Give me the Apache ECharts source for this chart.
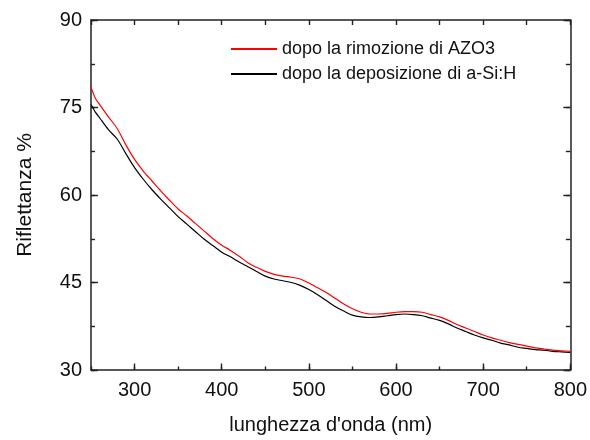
<!DOCTYPE html>
<html>
<head>
<meta charset="utf-8">
<script src="https://cdn.jsdelivr.net/npm/echarts@6/dist/echarts.min.js"></script>
<style>
  html, body { margin: 0; padding: 0; background: #fff; }
  #chart { width: 590px; height: 440px; }
</style>
</head>
<body>
<div id="chart"></div>
<script>
// Wavelength grid (nm)
const wavelengths = [250, 255, 260, 270, 280, 290, 300, 310, 320, 330, 340, 350, 360, 370, 380, 390,
  400, 410, 420, 430, 440, 450, 460, 470, 480, 490, 500, 510, 520, 530, 540, 550, 560, 570, 580, 590,
  600, 610, 620, 630, 640, 650, 660, 670, 680, 690, 700, 710, 720, 730, 740, 750, 760, 770, 780, 790, 800];

// Reflectance (%) after AZO3 removal
const reflAfterRemoval = [78.5, 76.6, 75.5, 73.4, 71.4, 68.6, 66.1, 64.1, 62.4, 60.7, 59.1, 57.6, 56.4, 55.1, 53.8, 52.5,
  51.4, 50.5, 49.5, 48.4, 47.6, 46.9, 46.4, 46.1, 45.9, 45.6, 44.9, 44.1, 43.3, 42.3, 41.3, 40.5, 39.9, 39.6, 39.6, 39.7,
  39.9, 40.0, 40.0, 39.9, 39.5, 39.1, 38.5, 37.8, 37.2, 36.6, 36.0, 35.5, 35.1, 34.7, 34.4, 34.1, 33.8, 33.6, 33.4, 33.3, 33.2];

// Reflectance (%) after a-Si:H deposition
const reflAfterDeposition = [75.5, 74.2, 73.2, 71.2, 69.6, 67.1, 64.7, 62.7, 60.9, 59.3, 57.8, 56.3, 55.0, 53.7, 52.4, 51.3,
  50.2, 49.4, 48.5, 47.7, 46.9, 46.1, 45.6, 45.3, 45.0, 44.5, 43.8, 42.9, 41.9, 40.9, 40.1, 39.4, 39.1, 39.0, 39.1, 39.3,
  39.5, 39.6, 39.5, 39.3, 38.9, 38.5, 37.9, 37.2, 36.6, 36.0, 35.5, 35.1, 34.6, 34.3, 33.9, 33.7, 33.5, 33.4, 33.2, 33.1, 33.0];

const seriesNames = ['dopo la rimozione di AZO3', 'dopo la deposizione di a-Si:H'];
const xTicks = [300, 400, 500, 600, 700, 800];
const yTicks = [30, 45, 60, 75, 90];

const font = 'Arial, "Liberation Sans", sans-serif';
const axisColor = '#222';
const X_MIN = 250, X_MAX = 800, Y_MIN = 30, Y_MAX = 90;

function pairs(xs, ys) { return xs.map((x, i) => [x, ys[i]]); }

const line = { show: true, onZero: false, lineStyle: { color: axisColor, width: 1.5 } };
const noLine = { show: false };
const tick = (len, values) => {
  const t = { show: true, inside: true, length: len, lineStyle: { color: axisColor, width: 1.4 } };
  if (values) t.customValues = values;
  return t;
};
const hiddenLabel = { show: false };

const chart = echarts.init(document.getElementById('chart'), null, { renderer: 'canvas' });
chart.setOption({
  animation: false,
  backgroundColor: '#fff',
  grid: { left: 91, right: 17, top: 20, bottom: 68, containLabel: false },
  legend: {
    orient: 'vertical',
    left: 226,
    top: 35,
    itemWidth: 46,
    itemHeight: 2,
    itemGap: 7,
    icon: 'rect',
    textStyle: { fontFamily: font, fontSize: 18, color: '#111' },
    data: seriesNames
  },
  xAxis: [
    {
      // bottom axis: minor ticks every 50 nm
      type: 'value', position: 'bottom', min: X_MIN, max: X_MAX, interval: 50,
      axisLine: line, axisTick: tick(3.5), splitLine: { show: false },
      axisLabel: { fontFamily: font, fontSize: 20, color: '#111', margin: 10, customValues: xTicks },
      name: "lunghezza d'onda (nm)", nameLocation: 'middle', nameGap: 45,
      nameTextStyle: { fontFamily: font, fontSize: 20, color: '#111' }
    },
    {
      // bottom axis: major ticks every 100 nm
      type: 'value', position: 'bottom', min: X_MIN, max: X_MAX,
      axisLine: noLine, axisTick: tick(6.5, xTicks), axisLabel: hiddenLabel, splitLine: { show: false }
    },
    {
      type: 'value', position: 'top', min: X_MIN, max: X_MAX, interval: 50,
      axisLine: line, axisTick: tick(5), axisLabel: hiddenLabel, splitLine: { show: false }
    }
  ],
  yAxis: [
    {
      type: 'value', position: 'left', min: Y_MIN, max: Y_MAX, interval: 7.5,
      axisLine: line, axisTick: tick(4), splitLine: { show: false },
      axisLabel: { fontFamily: font, fontSize: 20, color: '#111', margin: 9, customValues: yTicks },
      name: 'Riflettanza %', nameLocation: 'middle', nameGap: 55,
      nameTextStyle: { fontFamily: font, fontSize: 21, color: '#111' }
    },
    {
      type: 'value', position: 'left', min: Y_MIN, max: Y_MAX,
      axisLine: noLine, axisTick: tick(7, yTicks), axisLabel: hiddenLabel, splitLine: { show: false }
    },
    {
      type: 'value', position: 'right', min: Y_MIN, max: Y_MAX, interval: 7.5,
      axisLine: line, axisTick: tick(4.5), axisLabel: hiddenLabel, splitLine: { show: false }
    },
    {
      type: 'value', position: 'right', min: Y_MIN, max: Y_MAX,
      axisLine: noLine, axisTick: tick(7, yTicks), axisLabel: hiddenLabel, splitLine: { show: false }
    }
  ],
  series: [
    {
      name: seriesNames[0], type: 'line', xAxisIndex: 0, yAxisIndex: 0,
      data: pairs(wavelengths, reflAfterRemoval), showSymbol: false, smooth: 0.3,
      lineStyle: { color: '#ff0000', width: 1.2 }, itemStyle: { color: '#ff0000' }, z: 3
    },
    {
      name: seriesNames[1], type: 'line', xAxisIndex: 0, yAxisIndex: 0,
      data: pairs(wavelengths, reflAfterDeposition), showSymbol: false, smooth: 0.3,
      lineStyle: { color: '#000000', width: 1.2 }, itemStyle: { color: '#000000' }, z: 2
    }
  ]
});
</script>
</body>
</html>
